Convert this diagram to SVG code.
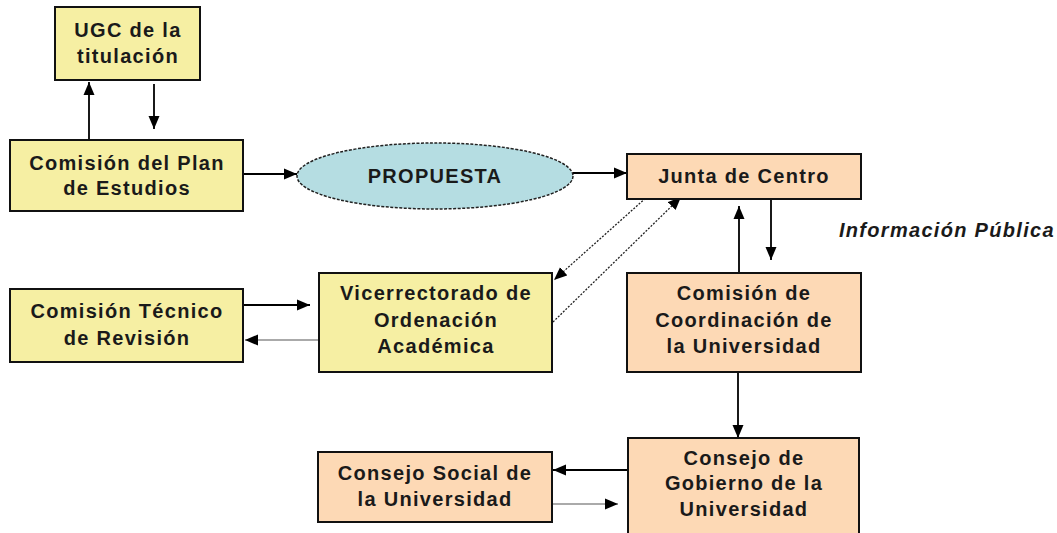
<svg xmlns="http://www.w3.org/2000/svg" width="1057" height="533" viewBox="0 0 1057 533">
<defs>
<marker id="ah" markerUnits="userSpaceOnUse" markerWidth="14" markerHeight="12" refX="13" refY="6" orient="auto" viewBox="0 0 14 12">
<path d="M0,0.5 L13,6 L0,11.5 z" fill="#000"/>
</marker>
</defs>
<style>
.y{fill:#F6EFA3;stroke:#111;stroke-width:2}
.p{fill:#FDD9B5;stroke:#111;stroke-width:2}
.t{font-family:"Liberation Sans",Arial,sans-serif;font-weight:bold;font-size:20px;letter-spacing:1.3px;fill:#1a1a1a;text-anchor:middle}
.c{stroke:#000;stroke-width:1.8;fill:none;marker-end:url(#ah)}
.g{stroke:#aaa;stroke-width:1.8;fill:none;marker-end:url(#ah)}
.d{stroke:#222;stroke-width:1.3;stroke-dasharray:2 1.5;fill:none;marker-end:url(#ah)}
</style>
<rect width="1057" height="533" fill="#fff"/>
<g id="connectors">
<line class="c" x1="89" y1="140" x2="89" y2="82"/>
<line class="c" x1="154" y1="84" x2="154" y2="129"/>
<line class="c" x1="243" y1="174" x2="297" y2="174"/>
<line class="c" x1="573" y1="173" x2="627" y2="173"/>
<line class="d" x1="648" y1="196" x2="554" y2="280"/>
<line class="d" x1="553" y1="322" x2="681" y2="197"/>
<line class="c" x1="243" y1="305" x2="310" y2="305"/>
<line class="g" x1="319" y1="340" x2="245" y2="340"/>
<line class="c" x1="739" y1="273" x2="739" y2="206"/>
<line class="c" x1="771" y1="199" x2="771" y2="260"/>
<line class="c" x1="738" y1="372" x2="738" y2="438"/>
<line class="c" x1="628" y1="470" x2="553" y2="470"/>
<line class="g" x1="552" y1="504" x2="618" y2="504"/>
</g>
<g id="ugc">
<rect class="y" x="55" y="7" width="145" height="73"/>
<text class="t" x="128" y="37">UGC de la</text>
<text class="t" x="128" y="63">titulación</text>
</g>
<g id="plan">
<rect class="y" x="10" y="140" width="233" height="71"/>
<text class="t" x="127" y="170">Comisión del Plan</text>
<text class="t" x="127" y="195">de Estudios</text>
</g>
<g id="propuesta">
<ellipse cx="435" cy="176" rx="138" ry="33" fill="#B5DDE2" stroke="#222" stroke-width="1.5" stroke-dasharray="3 1.5"/>
<text class="t" x="435" y="183">PROPUESTA</text>
</g>
<g id="junta">
<rect class="p" x="627" y="154" width="234" height="45"/>
<text class="t" x="744" y="183">Junta de Centro</text>
</g>
<g id="info">
<text class="t" x="839" y="237" style="text-anchor:start;font-style:italic">Información Pública</text>
</g>
<g id="vice">
<rect class="y" x="319" y="273" width="233" height="99"/>
<text class="t" x="436" y="300">Vicerrectorado de</text>
<text class="t" x="436" y="327">Ordenación</text>
<text class="t" x="436" y="353">Académica</text>
</g>
<g id="tecnico">
<rect class="y" x="10" y="289" width="233" height="73"/>
<text class="t" x="127" y="318">Comisión Técnico</text>
<text class="t" x="127" y="345">de Revisión</text>
</g>
<g id="coordinacion">
<rect class="p" x="627" y="273" width="234" height="99"/>
<text class="t" x="744" y="300">Comisión de</text>
<text class="t" x="744" y="327">Coordinación de</text>
<text class="t" x="744" y="353">la Universidad</text>
</g>
<g id="social">
<rect class="p" x="318" y="452" width="234" height="70"/>
<text class="t" x="435" y="480">Consejo Social de</text>
<text class="t" x="435" y="506">la Universidad</text>
</g>
<g id="gobierno">
<rect class="p" x="628" y="438" width="231" height="104"/>
<text class="t" x="744" y="465">Consejo de</text>
<text class="t" x="744" y="490">Gobierno de la</text>
<text class="t" x="744" y="516">Universidad</text>
</g>
</svg>
